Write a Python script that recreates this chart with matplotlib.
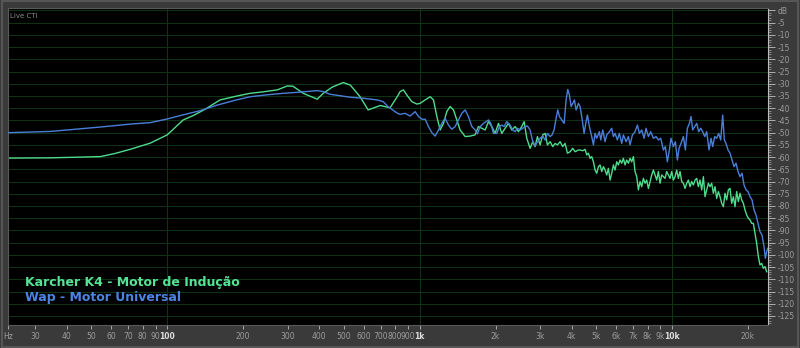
"""Frequency analysis screenshot recreation: Karcher K4 vs Wap motor spectrum."""

import matplotlib

matplotlib.use("Agg")
import matplotlib.pyplot as plt
from matplotlib.ticker import FixedLocator, NullLocator

# Karcher K4 - Motor de Indução (green), Hz / dB
karcher_freq = [
    23.5, 34.4, 54.3, 62.2, 71.4, 85.6, 100, 115.7, 126.8, 141.4, 162, 189, 213, 240, 273,
    299, 315, 346, 393, 415, 450, 498, 531, 581, 625, 698, 764, 815,
    837, 863, 890, 931, 975, 1005, 1052, 1101, 1135, 1170, 1206, 1243, 1281, 1321, 1362,
    1404, 1447, 1515, 1585, 1659, 1710, 1763, 1818, 1874, 1932, 1991, 2053, 2116, 2181,
    2249, 2318, 2390, 2463, 2539, 2594, 2658, 2740, 2807, 2868, 2929, 3001, 3075, 3141,
    3209, 3288, 3369, 3441, 3515, 3602, 3690, 3770, 3851, 3946, 4043, 4130, 4258,
    4322, 4428, 4524, 4593, 4663, 4735, 4807, 4881, 4956, 5031, 5109, 5187, 5266, 5347,
    5429, 5512, 5596, 5682, 5769, 5857, 5947, 6038, 6130, 6224, 6320, 6416, 6515, 6615,
    6716, 6819, 6923, 7029, 7137, 7246, 7357, 7470, 7584, 7700, 7818, 7938, 8060, 8183,
    8309, 8436, 8565, 8696, 8829, 8964, 9102, 9241, 9382, 9526, 9672, 9820, 9970, 10123,
    10278, 10435, 10595, 10758, 10922, 11090, 11260, 11432, 11607, 11785, 11965, 12149,
    12335, 12523, 12715, 12910, 13108, 13309, 13512, 13719, 13929, 14142, 14359, 14578,
    14802, 15029, 15259, 15493, 15730, 15971, 16215, 16464, 16716, 16972, 17232, 17496,
    17764, 18036, 18312, 18592, 18877, 19166, 19459, 19760, 20061, 20369, 20681, 20997,
    21319, 21645, 21977, 22313, 22655, 23002, 23354, 23712,
]
karcher_db = [
    -60.4, -60.3, -59.8, -58.5, -56.8, -54.3, -50.9, -44.8, -43.0, -40.4, -36.6, -35.0, -33.9, -33.3, -32.5,
    -30.9, -31.0, -33.9, -36.3, -33.9, -31.4, -29.5, -30.5, -35.3, -40.7, -38.9, -39.8, -35.3,
    -33.2, -32.5, -34.6, -37.3, -38.3, -38.0, -36.6, -35.3, -36.6, -43.4, -48.9, -46.2, -41.4, -39.3, -40.7,
    -44.8, -48.9, -51.6, -51.4, -50.9, -47.5, -48.2, -48.9, -45.5, -47.5, -50.3, -46.2, -50.3, -48.2,
    -46.2, -48.9, -47.5, -49.6, -47.5, -45.5, -52.3, -56.4, -53.7, -55.7, -51.6, -55.0, -50.9, -50.3,
    -55.0, -53.7, -55.7, -54.4, -55.0, -53.7, -55.7, -54.4, -58.4, -57.8, -56.4, -57.8, -57.1,
    -57.1, -57.4, -56.8, -59.1, -58.4, -60.5, -59.8, -61.9, -65.3, -66.6, -63.9, -63.2, -65.9, -63.9,
    -65.3, -67.3, -64.6, -69.4, -66.6, -63.2, -65.3, -61.9, -63.2, -61.2, -62.5, -60.5, -63.2, -61.2,
    -62.5, -60.5, -61.9, -59.8, -65.9, -68.0, -73.4, -70.0, -72.1, -68.7, -70.7, -69.4, -72.8, -70.0,
    -67.3, -65.3, -67.3, -69.4, -65.9, -70.7, -67.3, -68.0, -68.7, -65.9, -67.3, -68.7, -65.9, -69.4,
    -68.0, -65.3, -68.7, -65.9, -70.0, -70.7, -72.8, -70.7, -69.4, -72.1, -70.0, -71.4,
    -69.4, -68.7, -72.1, -69.4, -73.4, -68.0, -76.2, -73.4, -70.7, -72.1, -70.7, -74.8,
    -72.1, -76.9, -74.1, -76.2, -78.9, -80.3, -74.8, -77.5, -73.4, -72.8, -78.9, -76.2,
    -80.3, -74.1, -78.2, -74.8, -77.5, -78.9, -81.6, -83.7, -85.0, -85.7, -87.1, -87.1,
    -91.2, -95.3, -100.7, -104.1, -103.5, -105.5, -104.8, -106.9,
]

# Wap - Motor Universal (blue), Hz / dB
wap_freq = [
    23.5, 34.4, 54.3, 71.4, 85.6, 100, 115.7, 135, 158, 185, 213, 249, 288, 327, 393, 415,
    442, 531, 597, 679, 717, 750, 815,
    837, 876, 917, 960, 990, 1020, 1052, 1084, 1118, 1152, 1188, 1224, 1262, 1301, 1341,
    1383, 1425, 1469, 1515, 1561, 1610, 1659, 1695, 1737, 1790, 1834, 1874, 1914, 1961,
    2022, 2071, 2116, 2161, 2215, 2283, 2339, 2390, 2441, 2501, 2563, 2618, 2674, 2740,
    2807, 2868, 2929, 3001, 3075, 3141, 3209, 3288, 3348, 3410, 3473, 3526, 3580, 3657,
    3736, 3805, 3863, 3922, 3982, 4043, 4105, 4168, 4258,
    4322, 4388, 4483, 4565, 4621, 4706, 4807, 4881, 4956, 5031, 5155, 5218, 5316, 5429,
    5512, 5648, 5769, 5857, 5947, 6075, 6187, 6320, 6416, 6575, 6716, 6819, 6966, 7137,
    7290, 7425, 7584, 7747, 7890, 8060, 8233, 8436, 8643, 8829, 9019, 9241, 9411, 9584,
    9760, 9910, 10123, 10309, 10499, 10660, 10856, 11090, 11294, 11502, 11713, 11893,
    12075, 12297, 12523, 12754, 12988, 13227, 13471, 13719, 14014, 14272, 14490, 14757,
    15029, 15305, 15587, 15874, 16117, 16364, 16665, 16972, 17284, 17602, 17926, 18256,
    18592, 18934, 19283, 19640, 20000, 20369, 20744, 21125, 21514, 21910, 22313, 22724,
    23142, 23424, 23712, 23950,
]
wap_db = [
    -50.0, -49.5, -47.7, -46.5, -45.9, -44.4, -42.7, -41.0, -38.7, -36.8, -35.3, -34.5, -33.9, -33.5, -32.8, -33.2,
    -34.3, -35.5, -35.9, -36.6, -37.3, -39.4, -42.0,
    -42.5, -42.1, -43.2, -41.4, -43.4, -44.5, -44.5, -47.5, -50.0, -51.4, -48.9, -46.2, -44.1, -46.9, -48.6,
    -47.5, -44.8, -42.1, -40.7, -43.4, -47.5, -48.9, -50.5, -47.5, -46.2, -45.5, -44.8, -46.2, -50.3,
    -50.3, -47.5, -46.9, -47.5, -45.5, -46.9, -48.9, -49.6, -48.2, -48.9, -48.2, -47.5, -47.3, -48.9,
    -53.7, -55.4, -53.7, -52.3, -51.4, -53.0, -50.3, -51.6, -50.9, -48.9, -44.1, -40.7, -43.4, -44.8,
    -46.2, -36.6, -32.3, -34.6, -39.3, -38.0, -36.6, -40.7, -38.0,
    -39.3, -43.4, -50.3, -45.5, -42.8, -47.5, -51.6, -55.0, -50.3, -52.3, -49.6, -53.0, -48.9, -53.7,
    -50.9, -49.6, -48.2, -51.6, -50.3, -53.0, -50.3, -54.4, -50.9, -53.7, -51.6, -55.0, -50.9, -49.6,
    -46.9, -50.3, -48.9, -52.3, -48.2, -51.6, -49.6, -52.3, -51.6, -53.0, -52.3, -57.1, -55.7, -61.9,
    -57.1, -52.3, -55.7, -53.7, -61.2, -56.4, -54.4, -51.6, -57.1, -48.2, -46.2, -43.4,
    -48.9, -47.5, -46.2, -49.6, -48.2, -49.6, -51.6, -49.6, -57.1, -52.3, -55.7, -51.6,
    -52.3, -50.3, -53.0, -42.8, -53.0, -54.4, -57.1, -58.4, -61.2, -63.9, -62.5, -65.9,
    -68.0, -66.6, -71.4, -73.4, -74.1, -76.2, -77.5, -81.6, -83.7, -87.1, -90.5, -91.9,
    -96.6, -101.4, -98.7, -97.3,
]

x_ticks = [30, 40, 50, 60, 70, 80, 90, 100, 200, 300, 400, 500, 600, 700, 800, 900,
           1000, 2000, 3000, 4000, 5000, 6000, 7000, 8000, 9000, 10000, 20000]
x_labels = ["30", "40", "50", "60", "70", "80", "90", "100", "200", "300", "400", "500",
            "600", "700", "800", "900", "1k", "2k", "3k", "4k", "5k", "6k", "7k", "8k",
            "9k", "10k", "20k"]
decades = [100, 1000, 10000]

F_MIN, F_MAX = 23.4, 24000
DB_TOP, DB_BOTTOM = 1.0, -128.7

GREEN = "#4fdc8c"
BLUE = "#4a7fd8"
GRID = "#113415"
TICK = "#9c9c9c"


def main() -> None:
    fig = plt.figure(figsize=(8.0, 3.48), dpi=100, facecolor="#3a3a3a")
    # outer frame of the panel
    fig.patches.append(plt.Rectangle((0.002, 0.004), 0.996, 0.992, transform=fig.transFigure,
                                     fill=False, edgecolor="#555555", linewidth=1.5))

    ax = fig.add_axes([0.010, 0.066, 0.950, 0.911], facecolor="black")
    ax.set_xscale("log")
    ax.set_xlim(F_MIN, F_MAX)
    ax.set_ylim(DB_BOTTOM, DB_TOP)

    # grid: every 5 dB, vertical only on decades
    for db in range(0, -130, -5):
        ax.axhline(db, color=GRID, linewidth=0.7, zorder=1)
    for f in decades:
        ax.axvline(f, color=GRID, linewidth=0.7, zorder=1)

    ax.plot(wap_freq, wap_db, color=BLUE, linewidth=1.0, zorder=3)
    ax.plot(karcher_freq, karcher_db, color=GREEN, linewidth=1.0, zorder=2)

    # x axis
    ax.xaxis.set_major_locator(FixedLocator([F_MIN] + x_ticks))
    ax.xaxis.set_minor_locator(NullLocator())
    ax.set_xticklabels(["Hz"] + x_labels)
    ax.tick_params(axis="x", direction="out", length=3, width=0.6, color="#bbbbbb",
                   labelsize=5.5, labelcolor=TICK, pad=2)
    for lbl in ax.get_xticklabels():
        if lbl.get_text() in ("100", "1k", "10k"):
            lbl.set_color("#dddddd")
            lbl.set_fontweight("bold")

    # y axis on the right, dB scale
    ax.yaxis.tick_right()
    major = list(range(0, -130, -5))
    ax.yaxis.set_major_locator(FixedLocator(major))
    ax.yaxis.set_minor_locator(FixedLocator([v for v in range(0, -129, -1) if v % 5]))
    ax.set_yticklabels(["dB"] + [str(v) for v in major[1:]])
    ax.tick_params(axis="y", which="major", direction="out", length=5, width=0.6,
                   color="#c0c0c0", labelsize=5.5, labelcolor=TICK, pad=2)
    ax.tick_params(axis="y", which="minor", direction="out", length=2.5, width=0.5,
                   color="#a0a0a0")

    for side in ("left", "top", "bottom"):
        ax.spines[side].set_color("#5a5a5a")
        ax.spines[side].set_linewidth(0.8)
    ax.spines["right"].set_color("#bdbdbd")
    ax.spines["right"].set_linewidth(0.8)

    ax.text(0.003, 0.985, "Live CTI", transform=ax.transAxes, ha="left", va="top",
            fontsize=5, color="#8a8a8a")

    ax.text(0.022, 0.135, "Karcher K4 - Motor de Indução", transform=ax.transAxes,
            ha="left", va="center", fontsize=9, fontweight="bold", color="#55e496")
    ax.text(0.022, 0.088, "Wap - Motor Universal", transform=ax.transAxes,
            ha="left", va="center", fontsize=9, fontweight="bold", color="#4d84e4")

    fig.savefig("out.png", dpi=100, facecolor=fig.get_facecolor())
    plt.close(fig)


if __name__ == "__main__":
    main()
